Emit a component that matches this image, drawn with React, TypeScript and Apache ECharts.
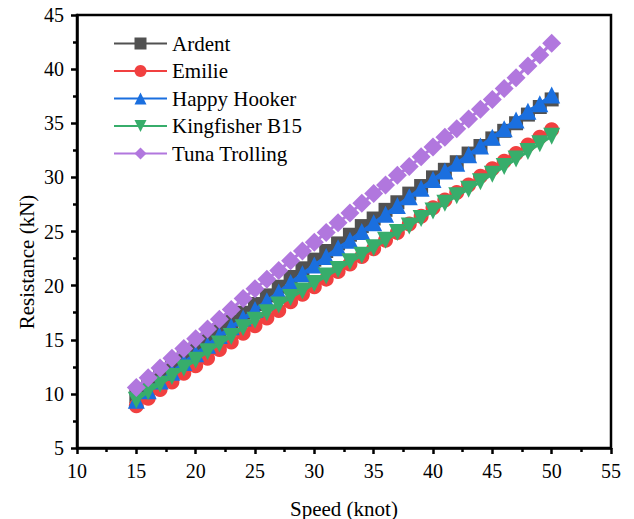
import React, { useEffect, useRef } from "react";
import * as echarts from "echarts";

const speeds = [15,16,17,18,19,20,21,22,23,24,25,26,27,28,29,30,31,32,33,34,35,36,37,38,39,40,41,42,43,44,45,46,47,48,49,50];

const ardent = [9.8,10.7,11.6,12.5,13.4,14.2,15.0,15.9,16.7,17.5,18.3,19.1,19.9,20.8,21.6,22.4,23.2,23.9,24.7,25.5,26.2,27.0,27.7,28.5,29.2,30.0,30.7,31.4,32.2,32.9,33.6,34.3,35.0,35.8,36.5,37.2];
const emilie = [8.9,9.6,10.4,11.1,11.9,12.6,13.3,14.1,14.8,15.6,16.3,17.0,17.7,18.5,19.2,19.9,20.6,21.3,22.0,22.7,23.4,24.2,24.9,25.7,26.4,27.2,27.9,28.6,29.3,30.1,30.8,31.5,32.2,33.0,33.7,34.4];
const happyHooker = [9.4,10.3,11.2,12.0,12.9,13.7,14.5,15.4,16.2,17.0,17.8,18.6,19.4,20.3,21.1,21.9,22.7,23.5,24.2,25.0,25.8,26.6,27.4,28.2,29.0,29.8,30.6,31.3,32.1,32.9,33.7,34.5,35.3,36.1,36.8,37.6];
const kingfisher = [9.4,10.2,10.9,11.6,12.4,13.1,13.9,14.6,15.3,16.1,16.8,17.5,18.2,18.9,19.5,20.2,20.9,21.5,22.2,22.8,23.5,24.2,24.9,25.5,26.2,26.9,27.6,28.3,28.9,29.6,30.3,31.0,31.7,32.4,33.1,33.8];
const tuna = [10.6,11.5,12.4,13.3,14.2,15.1,16.0,16.9,17.8,18.8,19.7,20.6,21.4,22.3,23.2,24.0,24.9,25.8,26.7,27.6,28.5,29.3,30.2,31.0,31.9,32.8,33.7,34.5,35.4,36.3,37.2,38.2,39.2,40.3,41.3,42.4];

const seriesNames = ["Ardent", "Emilie", "Happy Hooker", "Kingfisher B15", "Tuna Trolling"];
const seriesValues = [ardent, emilie, happyHooker, kingfisher, tuna];
const seriesColors = ["#515151", "#F14040", "#1A6FDF", "#37AD6B", "#B177DE"];
const seriesSymbols = ["rect", "circle", "triangle", "path://M0,0 L10,0 L5,10 Z", "diamond"];
const symbolSizes = [14, 15, 17, 17, 19];

const FONT = "Liberation Serif";

export default function App() {
  const ref = useRef<HTMLDivElement>(null);
  useEffect(() => {
    if (!ref.current) return;
    const chart = echarts.init(ref.current, null, { renderer: "svg" });
    chart.setOption({
      animation: false,
      backgroundColor: "#ffffff",
      textStyle: { fontFamily: FONT },
      grid: {
        left: 77,
        right: 23,
        top: 15,
        bottom: 71,
        show: true,
        borderColor: "#000",
        borderWidth: 2.5,
        outerBoundsMode: "none",
        containLabel: false,
      },
      legend: {
        orient: "vertical",
        left: 108,
        top: 28,
        itemWidth: 53,
        itemHeight: 15,
        itemGap: 6.5,
        textStyle: { fontFamily: FONT, fontSize: 21, color: "#000", lineHeight: 21 },
        data: seriesNames,
      },
      xAxis: {
        type: "value",
        min: 10,
        max: 55,
        interval: 5,
        name: "Speed (knot)",
        nameLocation: "middle",
        nameGap: 50,
        nameTextStyle: { fontFamily: FONT, fontSize: 21, color: "#000" },
        axisLine: { show: true, onZero: false, lineStyle: { color: "#000", width: 2.5 } },
        axisTick: { show: true, inside: false, length: 6, lineStyle: { color: "#000", width: 2.5 } },
        minorTick: { show: true, splitNumber: 2, length: 4, lineStyle: { color: "#000", width: 2.5 } },
        splitLine: { show: false },
        axisLabel: { fontFamily: FONT, fontSize: 20, color: "#000", margin: 13 },
      },
      yAxis: {
        type: "value",
        min: 5,
        max: 45,
        interval: 5,
        axisLine: { show: true, onZero: false, lineStyle: { color: "#000", width: 2.5 } },
        axisTick: { show: true, inside: false, length: 6, lineStyle: { color: "#000", width: 2.5 } },
        minorTick: { show: true, splitNumber: 2, length: 4, lineStyle: { color: "#000", width: 2.5 } },
        splitLine: { show: false },
        axisLabel: { fontFamily: FONT, fontSize: 20, color: "#000", margin: 13 },
      },
      graphic: [
        {
          type: "text",
          x: 27,
          y: 262,
          rotation: Math.PI / 2,
          style: {
            text: "Resistance (kN)",
            font: `21px ${FONT}`,
            fill: "#000",
            textAlign: "center",
            textVerticalAlign: "middle",
          },
        },
      ],
      series: seriesNames.map((name, i) => ({
        name,
        type: "line",
        data: speeds.map((s, j) => [s, seriesValues[i][j]]),
        symbol: seriesSymbols[i],
        symbolSize: symbolSizes[i],
        showAllSymbol: true,
        color: seriesColors[i],
        lineStyle: { color: seriesColors[i], width: 3 },
        itemStyle: { color: seriesColors[i] },
        z: 2 + i,
      })),
    });
    return () => chart.dispose();
  }, []);
  return (
    <div
      ref={ref}
      style={{ position: "fixed", left: 0, top: 0, width: 634, height: 519, background: "#fff" }}
    />
  );
}
